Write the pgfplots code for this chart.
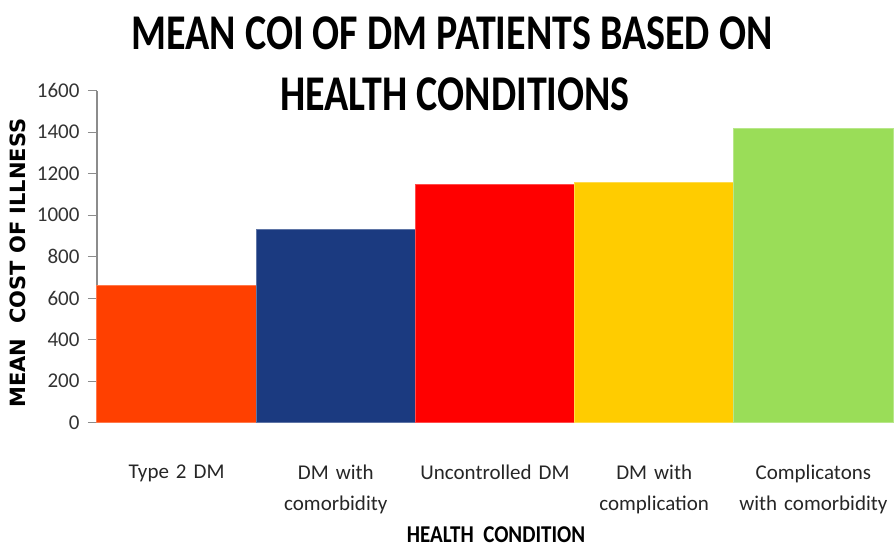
\documentclass[border=0pt]{standalone}
\usepackage{fontspec}
\setmainfont{Carlito}
\newfontfamily\djv{DejaVu Sans}
\usepackage{graphicx}
\usepackage{pgfplots}
\pgfplotsset{compat=1.18}
\definecolor{c1}{HTML}{FF4000}
\definecolor{c2}{HTML}{1B3A80}
\definecolor{c3}{HTML}{FF0000}
\definecolor{c4}{HTML}{FFCC00}
\definecolor{c5}{HTML}{9ADD58}
\begin{document}
\begin{tikzpicture}[x=1pt,y=1pt]
\useasboundingbox (0,0) rectangle (895,-547);
\begin{axis}[
 at={(97pt,-422.7pt)}, anchor=south west,
 scale only axis, width=796pt, height=332pt,
 xmin=0, xmax=5, ymin=0, ymax=1600,
 axis x line*=bottom, axis y line*=left,
 axis line style={draw=black!45, line width=1.2pt, -},
 ytick={0,200,...,1600},
 xtick={0.5,1.5,2.5,3.5,4.5},
 xticklabels={Type 2 DM, DM with\\comorbidity, Uncontrolled DM, DM with\\complication, Complicatons\\with comorbidity},
 x tick style={draw=none},
 y tick style={draw=black!45, line width=1pt},
 tick align=outside, major tick length=9pt,
 yticklabel style={font=\fontsize{21}{21}\selectfont, text=black!80, xshift=-5pt},
 xticklabel style={font=\fontsize{21}{31}\selectfont, text width=170pt, align=center, anchor=north, inner sep=0pt, yshift=-33pt, text=black!85},
 /pgf/number format/assume math mode=true,
 /pgf/number format/1000 sep={},
 ybar, bar width=1,
 clip=false,
]
\addplot[fill=c1, draw=c1!70!white, line width=1pt, bar shift=0pt] coordinates {(0.5,660)};
\addplot[fill=c2, draw=c2!70!white, line width=1pt, bar shift=0pt] coordinates {(1.5,930)};
\addplot[fill=c3, draw=c3!70!white, line width=1pt, bar shift=0pt] coordinates {(2.5,1150)};
\addplot[fill=c4, draw=c4!70!white, line width=1pt, bar shift=0pt] coordinates {(3.5,1160)};
\addplot[fill=c5, draw=c5!70!white, line width=1pt, bar shift=0pt] coordinates {(4.5,1420)};
\end{axis}
\node[rotate=90, inner sep=0pt, font=\djv\bfseries\fontsize{21}{21}\selectfont] at (18,-263) {MEAN\ \ COST OF ILLNESS};
\node[inner sep=0pt, font=\bfseries\fontsize{40}{40}\selectfont] at (452,-33.5) {\scalebox{1}[1.25]{MEAN COI OF DM PATIENTS BASED ON}};
\node[inner sep=0pt, font=\bfseries\fontsize{40}{40}\selectfont] at (455,-94) {\scalebox{1}[1.25]{HEALTH CONDITIONS}};
\node[inner sep=0pt, font=\bfseries\fontsize{21}{21}\selectfont] at (496,-534.5) {\scalebox{1}[1.15]{HEALTH\ \ CONDITION}};
\end{tikzpicture}
\end{document}
